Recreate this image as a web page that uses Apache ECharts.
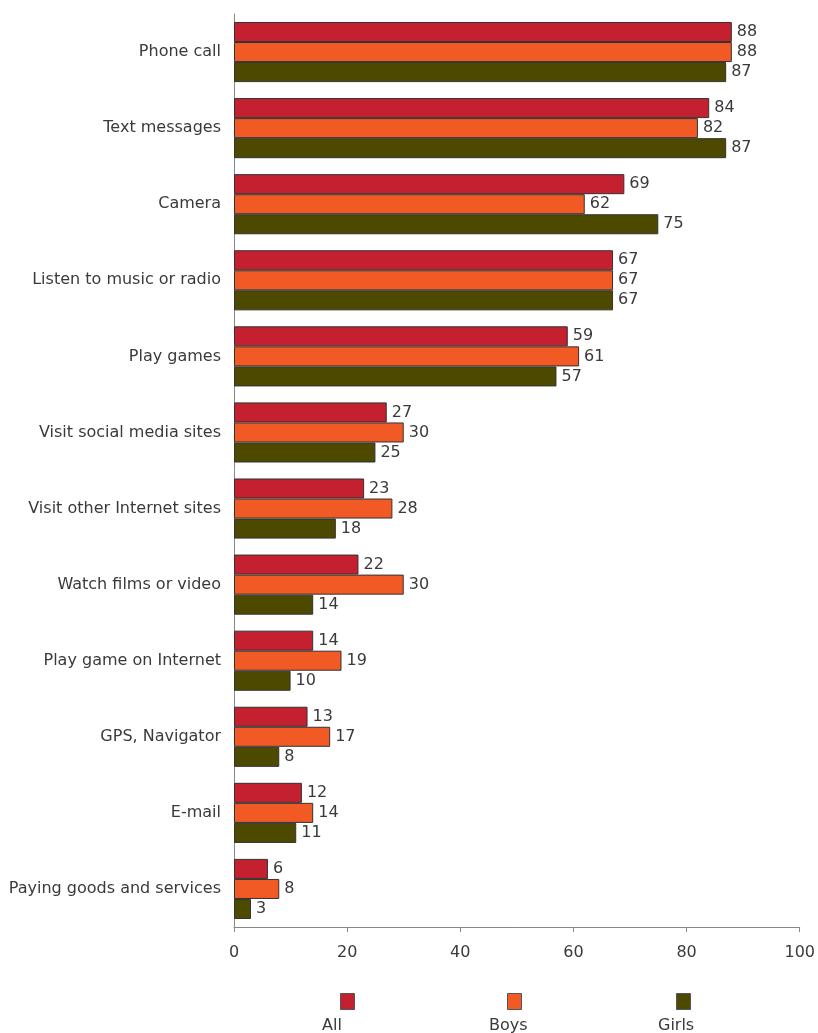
<!DOCTYPE html>
<html><head><meta charset="utf-8">
<script src="https://cdn.jsdelivr.net/npm/echarts@6/dist/echarts.min.js"></script>
<style>html,body{margin:0;padding:0;background:#fff}#c{width:818px;height:1033px}</style>
</head><body><div id="c"></div>
<script>
const categories = ["Phone call","Text messages","Camera","Listen to music or radio","Play games","Visit social media sites","Visit other Internet sites","Watch films or video","Play game on Internet","GPS, Navigator","E-mail","Paying goods and services"];
const seriesNames = ["All","Boys","Girls"];
const allValues = [88,84,69,67,59,27,23,22,14,13,12,6];
const boysValues = [88,82,62,67,61,30,28,30,19,17,14,8];
const girlsValues = [87,87,75,67,57,25,18,14,10,8,11,3];
const xTicks = [0,20,40,60,80,100];
const colors = ["#C4202F","#F15A24","#4D4A00"];

const font = "DejaVu Sans, Verdana, sans-serif";
const chart = echarts.init(document.getElementById('c'), null, {renderer:'canvas'});
const data = [allValues, boysValues, girlsValues];
const legendX = [347, 514, 683];
const option = {
  animation:false,
  textStyle:{fontFamily:font},
  grid:{left:234, right:18, top:14, bottom:106},
  xAxis:{type:'value', min:xTicks[0], max:xTicks[xTicks.length-1], interval:20,
    axisLine:{show:true, lineStyle:{color:'#888', width:1}},
    axisTick:{show:true, length:5, lineStyle:{color:'#888'}},
    splitLine:{show:false},
    axisLabel:{color:'#3a3a3a', fontSize:16, fontFamily:font, margin:18}},
  yAxis:{type:'category', data:categories, inverse:true,
    axisLine:{show:true, lineStyle:{color:'#888'}},
    axisTick:{show:false},
    axisLabel:{color:'#3a3a3a', fontSize:16, fontFamily:font, margin:13}},
  legend: seriesNames.map((n,i)=>({data:[n], left:legendX[i]-7, top:993, icon:'rect', itemWidth:14, itemHeight:16,
    formatter:()=>'', itemStyle:{borderColor:'#555', borderWidth:1}, selectedMode:false, padding:0})),
  graphic: seriesNames.map((n,i)=>({type:'text', left:legendX[i]-25, top:1018, style:{text:n, width:50, align:'center', fill:'#3a3a3a', font:'16px '+font}})),
  series: seriesNames.map((n,i)=>({name:n, type:'bar', data:data[i], barGap:'0%', barCategoryGap:'21%',
    itemStyle:{color:colors[i], borderColor:'#333', borderWidth:1},
    label:{show:true, position:'right', distance:5, color:'#3a3a3a', fontSize:16, fontFamily:font}}))
};
chart.setOption(option);
</script></body></html>
